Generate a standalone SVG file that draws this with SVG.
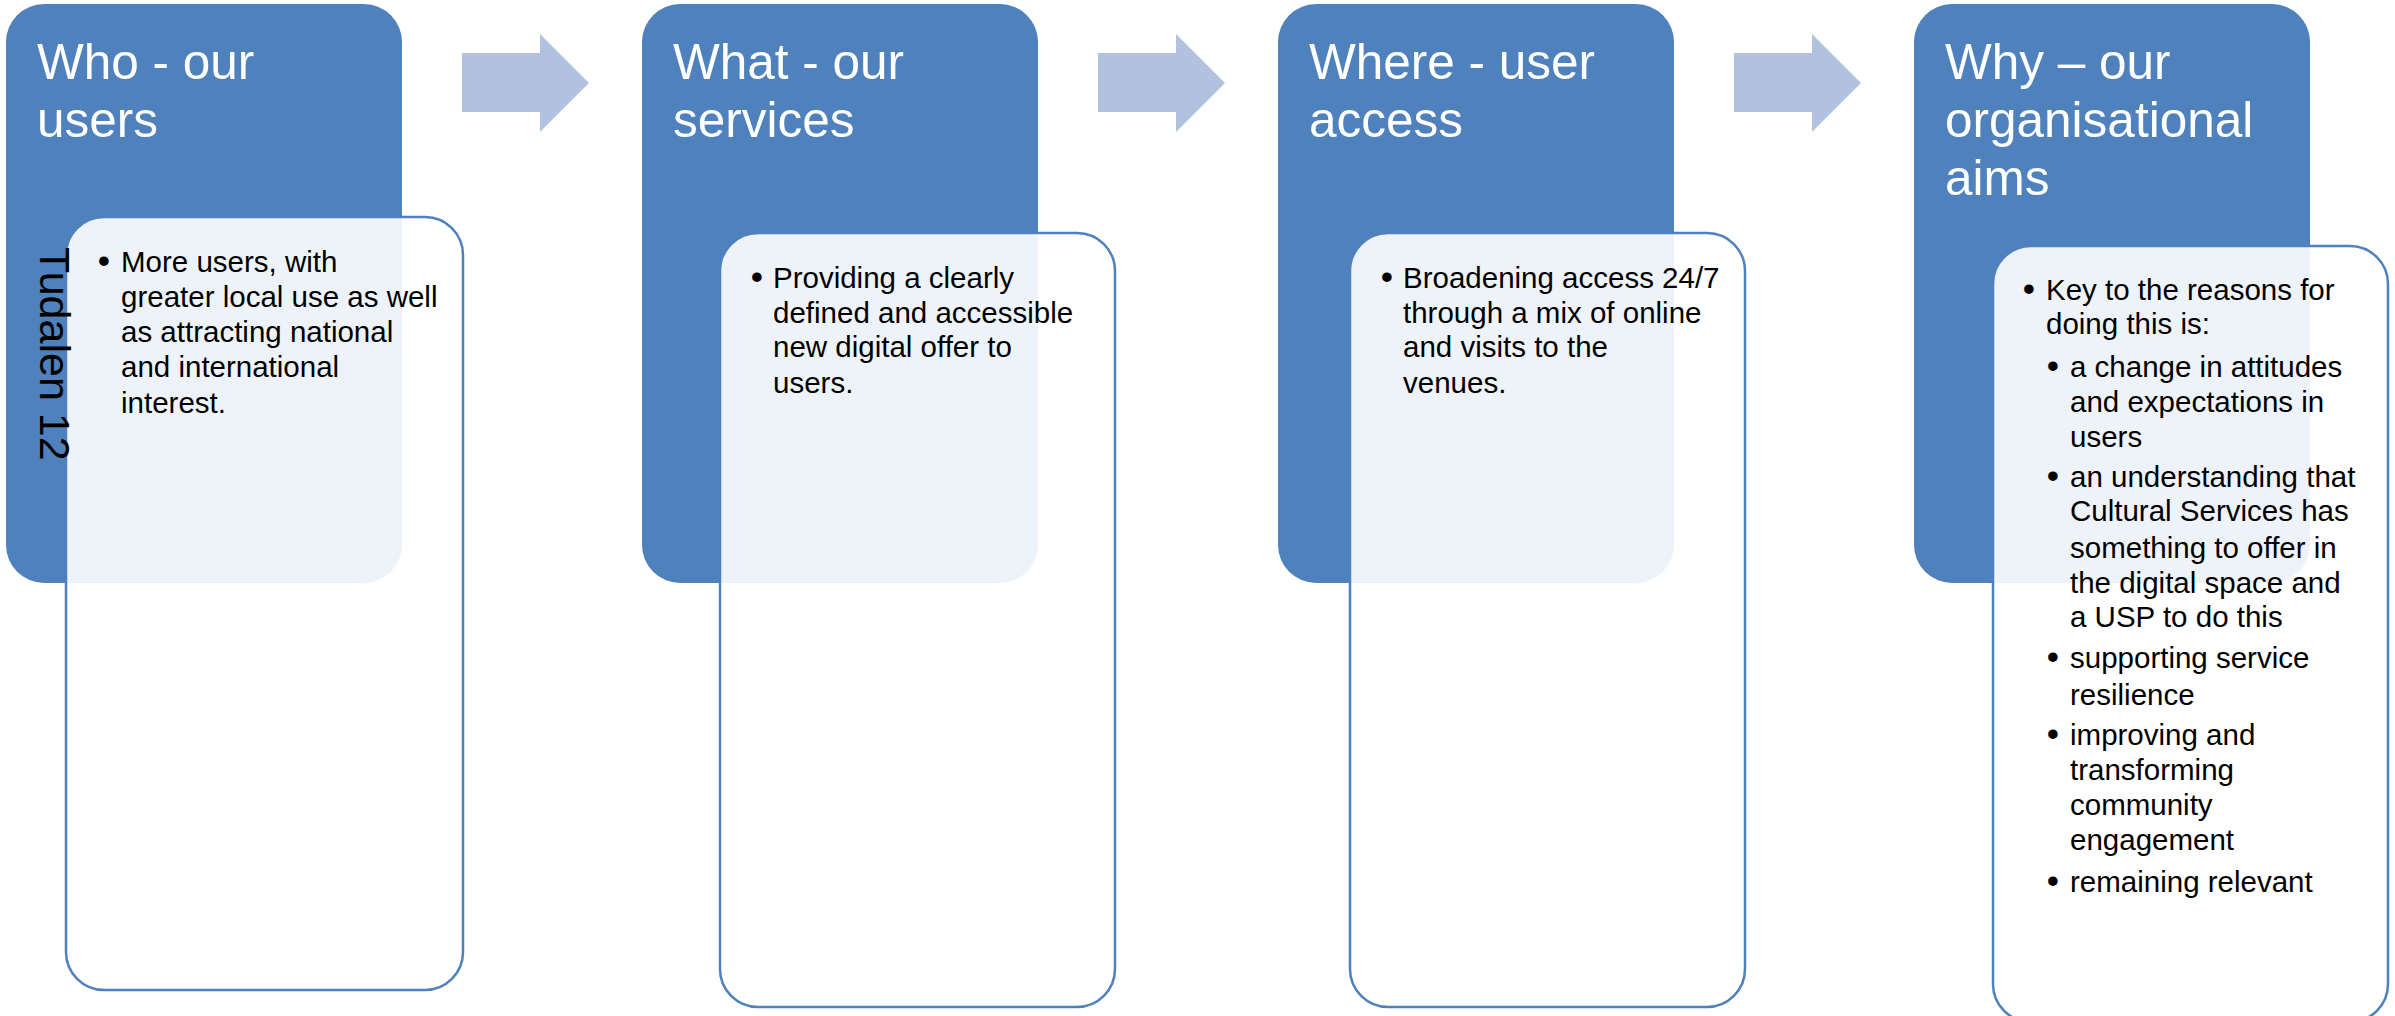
<svg xmlns="http://www.w3.org/2000/svg" width="2395" height="1016" viewBox="0 0 2395 1016">
<style>
.hdr{fill:#4F81BD}
.card{fill:#FFFFFF;fill-opacity:0.9;stroke:#4F81BD;stroke-width:2.5}
.arrow{fill:#B0C2DE}
.title{font-family:"Liberation Sans",Arial,sans-serif;font-size:49.5px;fill:#FFFFFF}
.body{font-family:"Liberation Sans",Arial,sans-serif;font-size:29.5px;fill:#000000}
.bul{font-family:"Liberation Sans",Arial,sans-serif;font-size:35px;fill:#000000;text-anchor:middle}
.side{font-family:"Liberation Sans",Arial,sans-serif;font-size:43px;fill:#000000}
</style>
<rect width="2395" height="1016" fill="#FFFFFF"/>
<g id="connectors">
<polygon class="arrow" points="462,53 540,53 540,34 589,83 540,132 540,112 462,112"/>
<polygon class="arrow" points="1098,53 1176,53 1176,34 1225,83 1176,132 1176,112 1098,112"/>
<polygon class="arrow" points="1734,53 1812,53 1812,34 1861,83 1812,132 1812,112 1734,112"/>
</g>
<g id="node-who">
<rect class="hdr" x="6" y="4" width="396" height="579" rx="38" ry="38"/>
<text class="title" x="37" y="79">Who - our</text>
<text class="title" x="37" y="137">users</text>
<rect class="card" x="66" y="217" width="397" height="773" rx="38" ry="38"/>
<text class="bul" x="104" y="273">•</text>
<text class="body" x="121" y="272">More users, with</text>
<text class="body" x="121" y="307">greater local use as well</text>
<text class="body" x="121" y="342">as attracting national</text>
<text class="body" x="121" y="377">and international</text>
<text class="body" x="121" y="413">interest.</text>
<text class="side" transform="translate(40,247) rotate(90)">Tudalen 12</text>
</g>
<g id="node-what">
<rect class="hdr" x="642" y="4" width="396" height="579" rx="38" ry="38"/>
<text class="title" x="673" y="79">What - our</text>
<text class="title" x="673" y="137">services</text>
<rect class="card" x="720" y="233" width="395" height="774" rx="38" ry="38"/>
<text class="bul" x="757" y="289">•</text>
<text class="body" x="773" y="288">Providing a clearly</text>
<text class="body" x="773" y="323">defined and accessible</text>
<text class="body" x="773" y="357">new digital offer to</text>
<text class="body" x="773" y="393">users.</text>
</g>
<g id="node-where">
<rect class="hdr" x="1278" y="4" width="396" height="579" rx="38" ry="38"/>
<text class="title" x="1309" y="79">Where - user</text>
<text class="title" x="1309" y="137">access</text>
<rect class="card" x="1350" y="233" width="395" height="774" rx="38" ry="38"/>
<text class="bul" x="1387" y="289">•</text>
<text class="body" x="1403" y="288">Broadening access 24/7</text>
<text class="body" x="1403" y="323">through a mix of online</text>
<text class="body" x="1403" y="357">and visits to the</text>
<text class="body" x="1403" y="393">venues.</text>
</g>
<g id="node-why">
<rect class="hdr" x="1914" y="4" width="396" height="579" rx="38" ry="38"/>
<text class="title" x="1945" y="79">Why – our</text>
<text class="title" x="1945" y="137">organisational</text>
<text class="title" x="1945" y="195">aims</text>
<rect class="card" x="1993" y="246" width="395" height="776" rx="38" ry="38"/>
<text class="bul" x="2029" y="301">•</text>
<text class="body" x="2046" y="300">Key to the reasons for</text>
<text class="body" x="2046" y="334">doing this is:</text>
<text class="bul" x="2053" y="378">•</text>
<text class="body" x="2070" y="377">a change in attitudes</text>
<text class="body" x="2070" y="412">and expectations in</text>
<text class="body" x="2070" y="447">users</text>
<text class="bul" x="2053" y="488">•</text>
<text class="body" x="2070" y="487">an understanding that</text>
<text class="body" x="2070" y="521">Cultural Services has</text>
<text class="body" x="2070" y="558">something to offer in</text>
<text class="body" x="2070" y="593">the digital space and</text>
<text class="body" x="2070" y="627">a USP to do this</text>
<text class="bul" x="2053" y="669">•</text>
<text class="body" x="2070" y="668">supporting service</text>
<text class="body" x="2070" y="705">resilience</text>
<text class="bul" x="2053" y="746">•</text>
<text class="body" x="2070" y="745">improving and</text>
<text class="body" x="2070" y="780">transforming</text>
<text class="body" x="2070" y="815">community</text>
<text class="body" x="2070" y="850">engagement</text>
<text class="bul" x="2053" y="893">•</text>
<text class="body" x="2070" y="892">remaining relevant</text>
</g>
</svg>
